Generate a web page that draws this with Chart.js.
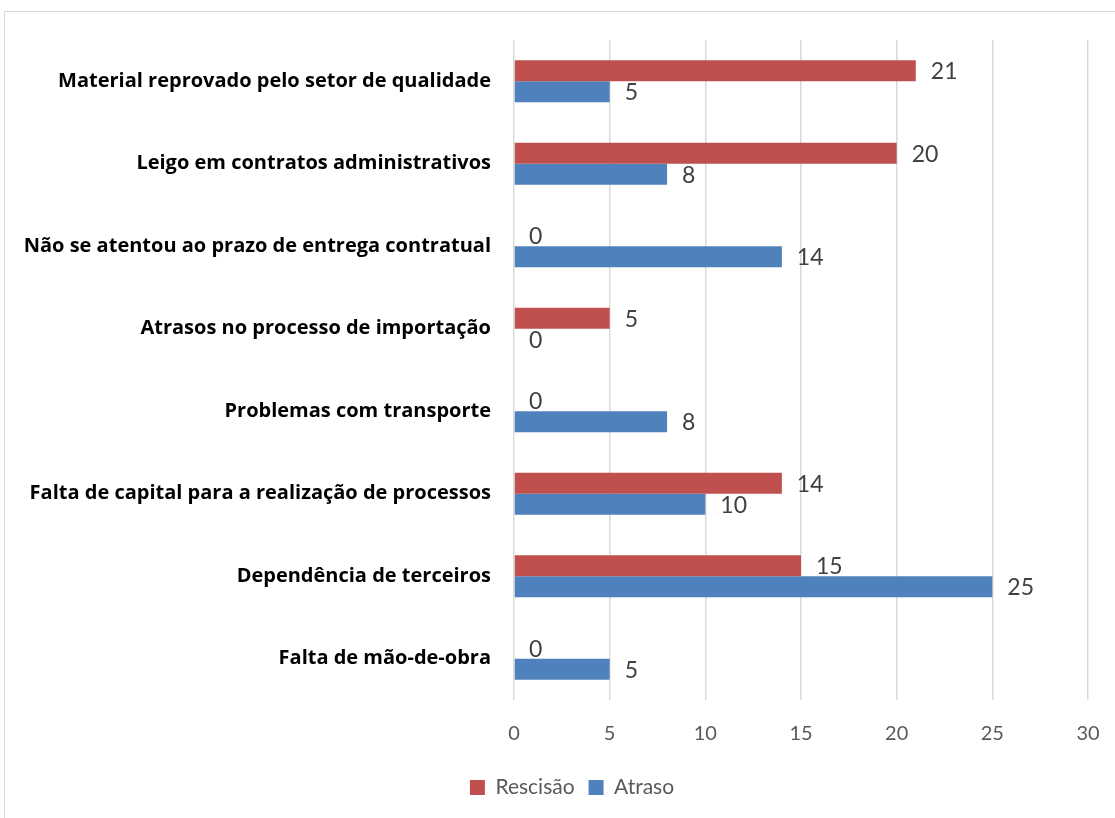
<!DOCTYPE html>
<html>
<head>
<meta charset="utf-8">
<script src="https://cdn.jsdelivr.net/npm/chart.js@4.4.1/dist/chart.umd.min.js"></script>
<style>
  html, body { margin: 0; padding: 0; background: #fff; }
  #wrap { width: 1115px; height: 818px; position: relative; }
</style>
</head>
<body>
<div id="wrap"><canvas id="chart" width="1115" height="818"></canvas></div>
<script>
const categories = [
    'Material reprovado pelo setor de qualidade',
    'Leigo em contratos administrativos',
    'Não se atentou ao prazo de entrega contratual',
    'Atrasos no processo de importação',
    'Problemas com transporte',
    'Falta de capital para a realização de processos',
    'Dependência de terceiros',
    'Falta de mão-de-obra'
];
const rescisao = [21, 20, 0, 5, 0, 14, 15, 0];
const atraso = [5, 8, 14, 0, 8, 10, 25, 5];
const xTicks = [0, 5, 10, 15, 20, 25, 30];

const baseFont = 'Lato, "Open Sans", sans-serif';
const labelFont = '"Open Sans", Lato, sans-serif';

// moldura cinza em volta do grafico
const framePlugin = {
    id: 'frame',
    beforeDraw(chart) {
        const ctx = chart.ctx;
        ctx.save();
        ctx.fillStyle = '#fff';
        ctx.fillRect(0, 0, chart.width, chart.height);
        ctx.strokeStyle = '#d9d9d9';
        ctx.lineWidth = 1;
        ctx.strokeRect(4.5, 11.5, 1200, 900);
        ctx.restore();
    }
};

// legenda um pouco deslocada para a direita, como no original
const legendShift = {
    id: 'legendShift',
    afterLayout(chart) {
        chart.legend.left += 56;
    }
};

// rotulos de valor ao lado de cada barra
const valueLabels = {
    id: 'valueLabels',
    afterDatasetsDraw(chart) {
        const ctx = chart.ctx;
        ctx.save();
        ctx.font = '23px ' + baseFont;
        ctx.fillStyle = '#404040';
        ctx.textAlign = 'left';
        ctx.textBaseline = 'middle';
        chart.data.datasets.forEach((ds, i) => {
            chart.getDatasetMeta(i).data.forEach((bar, j) => {
                ctx.fillText(String(ds.data[j]), bar.x + 15, bar.y + 1);
            });
        });
        ctx.restore();
    }
};

new Chart(document.getElementById('chart').getContext('2d'), {
    type: 'bar',
    data: {
        labels: categories,
        datasets: [{
            label: 'Rescisão',
            data: rescisao,
            backgroundColor: '#c0504d',
            categoryPercentage: 0.51,
            barPercentage: 1.0
        }, {
            label: 'Atraso',
            data: atraso,
            backgroundColor: '#4f81bd',
            categoryPercentage: 0.51,
            barPercentage: 1.0
        }]
    },
    options: {
        indexAxis: 'y',
        responsive: false,
        animation: false,
        layout: { padding: { top: 40, right: 27, bottom: 10, left: 0 } },
        scales: {
            x: {
                min: 0,
                max: 30,
                afterBuildTicks(scale) {
                    scale.ticks = xTicks.map(v => ({ value: v }));
                },
                afterFit(scale) {
                    scale.height = 63;
                    scale.paddingLeft = 0;
                    scale.paddingRight = 0;
                },
                grid: { color: '#d9d9d9', lineWidth: 1.5, drawTicks: false },
                border: { display: false },
                ticks: {
                    padding: 22,
                    color: '#595959',
                    font: { family: baseFont, size: 20 }
                }
            },
            y: {
                afterFit(scale) { scale.width = 514; },
                grid: { display: false },
                border: { display: false },
                ticks: {
                    padding: 15,
                    color: '#000',
                    font: { family: labelFont, size: 20, weight: 'bold' }
                }
            }
        },
        plugins: {
            legend: {
                position: 'bottom',
                labels: {
                    boxWidth: 15,
                    boxHeight: 15,
                    padding: 14,
                    color: '#595959',
                    font: { family: baseFont, size: 21 }
                }
            },
            tooltip: { enabled: false }
        }
    },
    plugins: [framePlugin, legendShift, valueLabels]
});
</script>
</body>
</html>
